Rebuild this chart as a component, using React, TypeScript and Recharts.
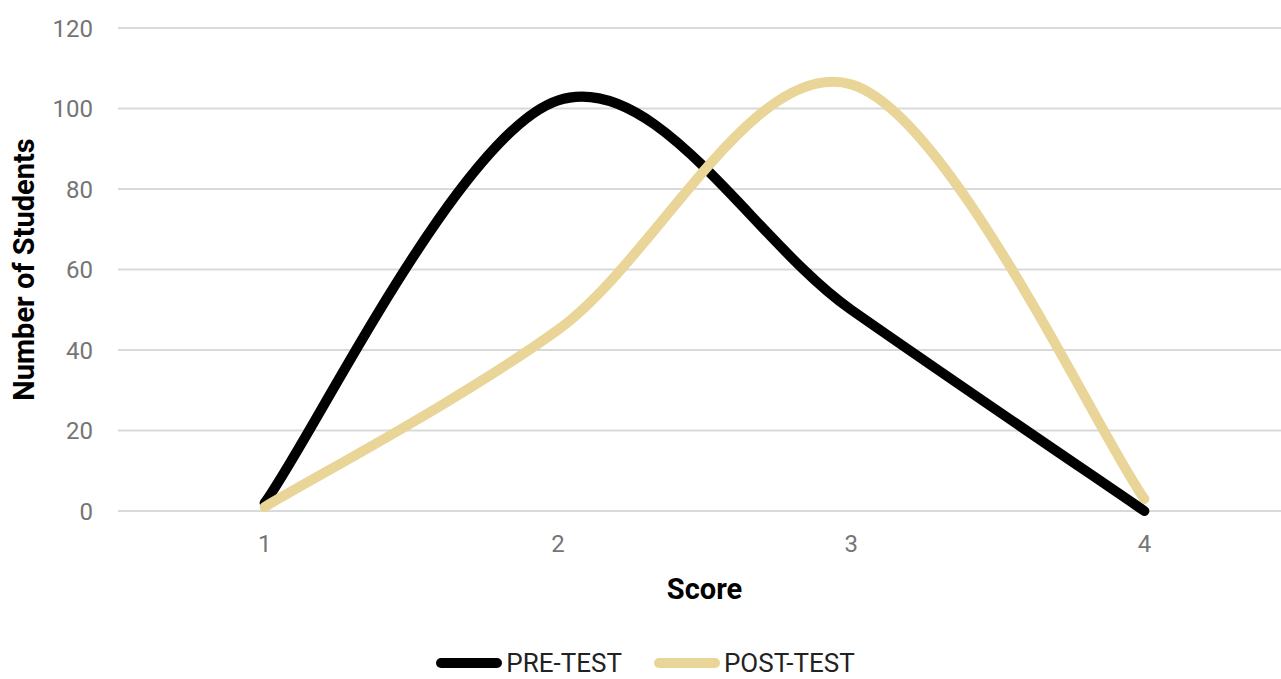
import React from 'react';
import { LineChart, Line, XAxis, YAxis, CartesianGrid, Legend } from 'recharts';

// Score categories on the x axis
const scores = [1, 2, 3, 4];
// Number of students per score
const preTest = [2, 102, 50, 0];
const postTest = [1, 45, 106, 3];
// Y axis tick values
const yTicks = [0, 20, 40, 60, 80, 100, 120];

const series = [
  { key: 'pre', name: 'PRE-TEST', color: '#000000' },
  { key: 'post', name: 'POST-TEST', color: '#E9D597' },
];

const data = scores.map((score, i) => ({ score, pre: preTest[i], post: postTest[i] }));

const FONT = 'Roboto, "Open Sans", Arial, sans-serif';

// Smoothed line through every point: cubic Bezier segments whose control
// points sit 1/6 of the neighbouring chord away (Catmull-Rom style).
function smoothCurve(context: any) {
  let pts: number[][] = [];
  return {
    areaStart() {},
    areaEnd() {},
    lineStart() {
      pts = [];
    },
    point(x: number, y: number) {
      pts.push([+x, +y]);
    },
    lineEnd() {
      const n = pts.length;
      if (n === 0) return;
      context.moveTo(pts[0][0], pts[0][1]);
      for (let i = 0; i < n - 1; i++) {
        const p0 = pts[Math.max(i - 1, 0)];
        const p1 = pts[i];
        const p2 = pts[i + 1];
        const p3 = pts[Math.min(i + 2, n - 1)];
        context.bezierCurveTo(
          p1[0] + (p2[0] - p0[0]) / 6,
          p1[1] + (p2[1] - p0[1]) / 6,
          p2[0] - (p3[0] - p1[0]) / 6,
          p2[1] - (p3[1] - p1[1]) / 6,
          p2[0],
          p2[1]
        );
      }
    },
  };
}

const YTitle = (props: any) => {
  const vb = props.viewBox || { x: 0, y: 28, width: 118, height: 483 };
  const cx = 34;
  const cy = vb.y + vb.height / 2;
  return (
    <text
      x={cx}
      y={cy}
      transform={`rotate(-90, ${cx}, ${cy})`}
      textAnchor="middle"
      fontFamily={FONT}
      fontWeight={700}
      fontSize={29}
      fill="#000"
    >
      Number of Students
    </text>
  );
};

const XTitle = (props: any) => {
  const vb = props.viewBox || { x: 118, y: 511, width: 1172, height: 100 };
  return (
    <text
      x={vb.x + vb.width / 2}
      y={vb.y + 88}
      textAnchor="middle"
      fontFamily={FONT}
      fontWeight={700}
      fontSize={29}
      fill="#000"
    >
      Score
    </text>
  );
};

const LegendContent = () => (
  <div
    style={{
      height: 68,
      boxSizing: 'border-box',
      paddingTop: 39,
      display: 'flex',
      justifyContent: 'center',
      alignItems: 'flex-start',
      fontFamily: FONT,
    }}
  >
    {series.map((s, i) => (
      <div
        key={s.key}
        style={{ display: 'flex', alignItems: 'center', marginLeft: i === 0 ? 0 : 32, height: 26 }}
      >
        <svg width={66} height={12} style={{ display: 'block' }}>
          <line x1={5} y1={6} x2={61} y2={6} stroke={s.color} strokeWidth={10} strokeLinecap="round" />
        </svg>
        <span style={{ marginLeft: 4, fontSize: 26, lineHeight: '26px', color: '#222' }}>{s.name}</span>
      </div>
    ))}
  </div>
);

export default function App() {
  return (
    <div
      style={{
        position: 'absolute',
        left: 0,
        top: 0,
        width: 1281,
        height: 679,
        overflow: 'hidden',
        background: '#fff',
      }}
    >
      <LineChart width={1292} height={679} data={data} margin={{ top: 28, right: 1, left: 0, bottom: 0 }}>
        <CartesianGrid horizontal vertical={false} stroke="#d9d9d9" strokeWidth={2} />
        <XAxis
          dataKey="score"
          type="number"
          domain={[0.5, 4.5]}
          ticks={scores}
          interval={0}
          axisLine={false}
          tickLine={false}
          tickSize={0}
          tickMargin={24}
          height={100}
          tick={{ fill: '#757575', fontSize: 24, fontFamily: FONT }}
          label={XTitle}
        />
        <YAxis
          domain={[0, 120]}
          ticks={yTicks}
          interval={0}
          axisLine={false}
          tickLine={false}
          tickSize={0}
          tickMargin={25}
          width={118}
          tick={{ fill: '#757575', fontSize: 24, fontFamily: FONT }}
          label={YTitle}
        />
        <Legend verticalAlign="bottom" content={LegendContent} />
        {series.map((s) => (
          <Line
            key={s.key}
            dataKey={s.key}
            name={s.name}
            type={smoothCurve as any}
            stroke={s.color}
            strokeWidth={10}
            strokeLinecap="round"
            strokeLinejoin="round"
            dot={false}
            activeDot={false}
            isAnimationActive={false}
          />
        ))}
      </LineChart>
    </div>
  );
}
